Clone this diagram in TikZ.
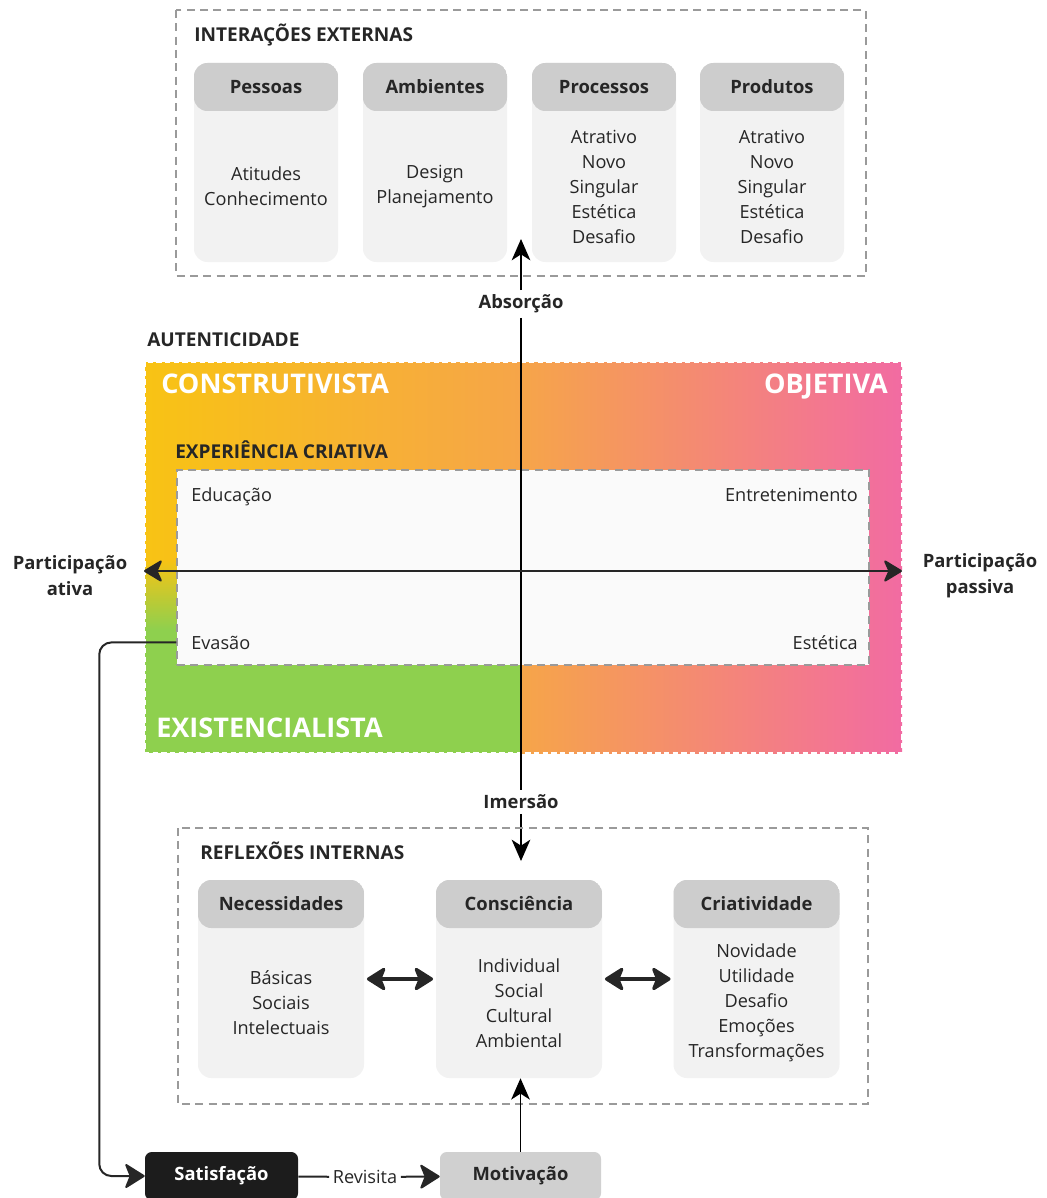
\documentclass[tikz,border=0pt]{standalone}
\usepackage{fontspec}
\setmainfont{Open Sans}
\usetikzlibrary{arrows.meta}
\definecolor{textdark}{HTML}{262626}
\definecolor{boxgray}{HTML}{9A9A9A}
\definecolor{cardlight}{HTML}{F2F2F2}
\definecolor{cardhead}{HTML}{CDCDCD}
\definecolor{autyellow}{HTML}{F8C314}
\definecolor{autorange}{HTML}{F6A549}
\definecolor{autpink}{HTML}{F26BA2}
\definecolor{autgreen}{HTML}{8ED04E}
\definecolor{satblack}{HTML}{1C1C1C}
\definecolor{motgray}{HTML}{D0D0D0}

\tikzset{
  bigtip/.tip={Stealth[length=16pt,width=20pt,inset=4pt,round]},
  axistip/.tip={Stealth[length=15pt,width=18pt,inset=4pt,round]},
  thintip/.tip={Stealth[length=16pt,width=14pt,inset=4.5pt]},
  boxline/.style={draw=boxgray, line width=1.1pt, dash pattern=on 6pt off 4pt},
  cardbody/.style={fill=cardlight, rounded corners=10pt, inner sep=0pt,
    path picture={\fill[cardhead] (path picture bounding box.north west) rectangle ([yshift=-36pt]path picture bounding box.north east);}},
  topcard/.style={cardbody, minimum width=108pt, minimum height=149.25pt},
  botcard/.style={cardbody, minimum width=124.5pt, minimum height=148.5pt},
  cardtitle/.style={anchor=base, font=\bfseries\fontsize{13.8}{16}\selectfont, text=textdark},
  cardtext/.style={font=\fontsize{13.6}{18.75}\selectfont, text=textdark, align=center},
  heading/.style={anchor=base west, inner sep=0pt, font=\bfseries\fontsize{14.3}{16}\selectfont, text=textdark},
  bigword/.style={inner sep=0pt, font=\bfseries\fontsize{20.3}{22}\selectfont, text=white},
  quadword/.style={inner sep=0pt, font=\fontsize{13.6}{16}\selectfont, text=textdark},
  axislabel/.style={font=\bfseries\fontsize{13.8}{19.5}\selectfont, text=textdark, align=center},
  axisline/.style={draw=black, line width=0.9pt},
  flowarrow/.style={draw=black, line width=1.1pt, -thintip},
  cyclearrow/.style={draw=textdark, line width=1.5pt, -bigtip},
  dblarrow/.style={draw=textdark, line width=2.4pt, bigtip-bigtip, shorten <=2pt, shorten >=2pt},
}

\begin{document}
\begin{tikzpicture}[x=0.75pt, y=-0.75pt]
\useasboundingbox (0,0) rectangle (1046,1198);

% Interacoes externas
  \draw[boxline] (176,10) rectangle (866,276);
  \node[heading] (interacoes) at (194,42) {INTERAÇÕES EXTERNAS};

  % Pessoas
  \node[topcard] (pessoas) at (266,162.5) {};
  \node[cardtitle] (pessoas-t) at (266,93.5) {Pessoas};
  \node[cardtext] (pessoas-b) at (266,186.5) {Atitudes\\Conhecimento};

  % Ambientes
  \node[topcard] (ambientes) at (435,162.5) {};
  \node[cardtitle] (ambientes-t) at (435,93.5) {Ambientes};
  \node[cardtext] (ambientes-b) at (435,186.5) {Design\\Planejamento};

  % Processos
  \node[topcard] (processos) at (604,162.5) {};
  \node[cardtitle] (processos-t) at (604,93.5) {Processos};
  \node[cardtext] (processos-b) at (604,186.5) {Atrativo\\Novo\\Singular\\Estética\\Desafio};

  % Produtos
  \node[topcard] (produtos) at (772,162.5) {};
  \node[cardtitle] (produtos-t) at (772,93.5) {Produtos};
  \node[cardtext] (produtos-b) at (772,186.5) {Atrativo\\Novo\\Singular\\Estética\\Desafio};

% Autenticidade
  \node[heading] (autenticidade) at (147,346.5) {AUTENTICIDADE};

  \shade[left color=autyellow, right color=autorange] (145,362) rectangle (521,560);
  \shade[top color=autyellow, bottom color=autgreen] (145,560) rectangle (521,630);
  \fill[autgreen] (145,630) rectangle (521,753);
  \shade[left color=autorange, right color=autpink] (521,362) rectangle (902,753);
  \draw[white, line width=1.5pt, dash pattern=on 4pt off 2.5pt] (145,362) rectangle (902,753);

  \node[bigword, anchor=base west] (construtivista) at (161,393) {CONSTRUTIVISTA};
  \node[bigword, anchor=base east] (objetiva) at (888,393) {OBJETIVA};
  \node[bigword, anchor=base west] (existencialista) at (156,737) {EXISTENCIALISTA};

  % experiencia criativa
  \node[heading] (expcriativa) at (175,458) {EXPERIÊNCIA CRIATIVA};
  \node[boxline, fill=white!98!black, minimum width=519pt, minimum height=146.25pt] (experiencia) at (523,567.5) {};

  \node[quadword, anchor=base west] (educacao) at (191,501) {Educação};
  \node[quadword, anchor=base east] (entretenimento) at (858,501) {Entretenimento};
  \node[quadword, anchor=base west] (evasao) at (191,649) {Evasão};
  \node[quadword, anchor=base east] (estetica) at (858,649) {Estética};

  % eixos
  \node[axislabel] (absorcao) at (521,304) {Absorção};
  \node[axislabel] (imersao) at (521,802) {Imersão};
  \coordinate (absorcao-tip) at (521,239);
  \coordinate (imersao-tip) at (521,861);
  \draw[axisline] (absorcao) -- (imersao);
  \draw[flowarrow] (absorcao) -- (absorcao-tip);
  \draw[flowarrow] (imersao) -- (imersao-tip);

  \node[axislabel] (ativa) at (70,576) {Participação\\ativa};
  \node[axislabel] (passiva) at (980,576) {Participação\\passiva};
  \coordinate (ativa-tip) at (144,571);
  \coordinate (passiva-tip) at (902,571);
  \draw[draw=textdark, line width=1.6pt, axistip-axistip] (ativa-tip) -- (passiva-tip);

% Reflexoes internas
  \draw[boxline] (178,828) rectangle (868,1104);
  \node[heading] (reflexoes) at (200,859) {REFLEXÕES INTERNAS};

  % Necessidades
  \node[botcard] (necessidades) at (281,979) {};
  \node[cardtitle] (necessidades-t) at (281,910.5) {Necessidades};
  \node[cardtext] (necessidades-b) at (281,1003) {Básicas\\Sociais\\Intelectuais};

  % Consciencia
  \node[botcard] (consciencia) at (519,979) {};
  \node[cardtitle] (consciencia-t) at (519,910.5) {Consciência};
  \node[cardtext] (consciencia-b) at (519,1003) {Individual\\Social\\Cultural\\Ambiental};

  % Criatividade
  \node[botcard] (criatividade) at (756.5,979) {};
  \node[cardtitle] (criatividade-t) at (756.5,910.5) {Criatividade};
  \node[cardtext] (criatividade-b) at (756.5,1003) {Novidade\\Utilidade\\Desafio\\Emoções\\Transformações};

  \draw[dblarrow] (necessidades) -- (consciencia);
  \draw[dblarrow] (consciencia) -- (criatividade);

% Ciclo
  \node[fill=satblack, text=white, rounded corners=5pt, minimum width=114.75pt, minimum height=36pt,
    font=\bfseries\fontsize{13.8}{16}\selectfont] (satisfacao) at (221.5,1176) {Satisfação};
  \node[fill=motgray, text=textdark, rounded corners=5pt, minimum width=120.75pt, minimum height=36pt,
    font=\bfseries\fontsize{13.8}{16}\selectfont] (motivacao) at (520.5,1176) {Motivação};
  \node[quadword, inner sep=2.5pt] (revisita) at (365,1177) {Revisita};

  \draw[draw=textdark, line width=1.5pt] (satisfacao) -- (revisita);
  \draw[cyclearrow] (revisita) -- (motivacao);
  \draw[flowarrow] (motivacao.north) -- (motivacao.north |- consciencia.south);
  \draw[cyclearrow, rounded corners=9pt] (experiencia.west |- evasao.west) -| ([xshift=-57.75pt]experiencia.west |- satisfacao) -- (satisfacao);

\end{tikzpicture}
\end{document}
